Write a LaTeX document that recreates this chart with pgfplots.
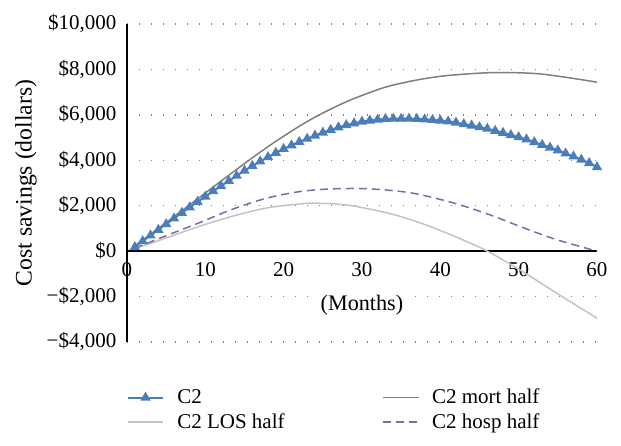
\documentclass[border=0pt]{standalone}
\usepackage{pgfplots}
\pgfplotsset{compat=1.18}
\usepackage{fontspec}
\setmainfont{Liberation Serif}
\definecolor{cblue}{HTML}{4A7EBB}
\definecolor{cmort}{HTML}{7F7F7F}
\definecolor{clos}{HTML}{C3C3C3}
\definecolor{chosp}{HTML}{7F6AA8}
\definecolor{cgrid}{HTML}{808080}

\pgfplotstableread{
m v
1 180
2 440
3 690
4 940
5 1190
6 1440
7 1690
8 1930
9 2170
10 2400
11 2640
12 2870
13 3090
14 3320
15 3540
16 3750
17 3950
18 4140
19 4330
20 4500
21 4660
22 4810
23 4950
24 5090
25 5220
26 5340
27 5450
28 5550
29 5630
30 5700
31 5750
32 5790
33 5820
34 5830
35 5830
36 5830
37 5820
38 5800
39 5780
40 5750
41 5710
42 5660
43 5590
44 5530
45 5460
46 5390
47 5300
48 5210
49 5110
50 5020
51 4920
52 4800
53 4680
54 4560
55 4440
56 4300
57 4170
58 4030
59 3880
60 3700
}\cii

\pgfplotstableread{
m v
1 230
5 1260
10 2560
14 3600
18 4600
22 5500
25 6080
28.5 6650
33 7220
37.4 7560
41.2 7740
46.8 7860
52.8 7800
60 7440
}\mort

\pgfplotstableread{
m v
1 110
5 580
9.3 1100
13.5 1540
17.8 1900
22.1 2080
24.5 2110
28.5 2010
33.6 1650
37.8 1200
42.1 610
46 0
50.6 -920
54.9 -1860
60 -2950
}\los

\pgfplotstableread{
m v
1 130
5 680
9.3 1260
13.5 1850
17.8 2330
22 2620
26 2740
30.5 2750
34.9 2630
37.8 2460
42.1 2080
46.4 1590
50.6 1030
54.9 500
60 0
}\hosp

\begin{document}
\fontsize{12.6}{14.5}\selectfont
\begin{tikzpicture}
\begin{axis}[
  at={(0pt,0pt)}, anchor=south west,
  scale only axis, width=282pt, height=190.8pt,
  xmin=0, xmax=60, ymin=-4000, ymax=10000,
  axis x line=middle, axis y line=left,
  axis line style={-, black, line width=0.9pt},
  xtick={0,10,20,30,40,50,60},
  xticklabels={0,10,20,30,40,50,60},
  ytick={-4000,-2000,0,2000,4000,6000,8000,10000},
  yticklabels={{−\$4,000},{−\$2,000},{\$0},{\$2,000},{\$4,000},{\$6,000},{\$8,000},{\$10,000}},
  scaled y ticks=false,
  major tick length=0pt,
  hide obscured x ticks=false,
  ymajorgrids,
  grid style={cgrid, line width=0.9pt, dash pattern=on 0.9pt off 6.3pt},
  tick label style={font=\fontsize{12.6}{14.5}\selectfont},
  x tick label style={yshift=-2.5pt},
  y tick label style={xshift=-2pt},
  xlabel={(Months)},
  xlabel style={at={(axis cs:30,-2400)}, anchor=center, fill=white, inner sep=1pt, font=\fontsize{13.3}{15}\selectfont},
  ylabel={Cost savings (dollars)},
  ylabel style={at={(axis description cs:-0.215,0.5)}, anchor=center, font=\fontsize{14.2}{16}\selectfont},
  clip=false,
  legend columns=2,
  legend cell align=left,
  legend style={draw=none, fill=none, at={(rel axis cs:0,0)}, anchor=north west, yshift=-26pt,
    inner sep=0pt, outer sep=0pt, row sep=0pt, font=\fontsize{12.6}{14.5}\selectfont,
    /tikz/every odd column/.append style={column sep=6pt}},
  legend image code/.code={\draw[mark repeat=2,mark phase=2,#1] plot coordinates {(0pt,0pt) (10.5pt,0pt) (21pt,0pt)};},
]
\addplot[cblue, line width=1.2pt, mark=triangle*, mark size=2.4pt, mark options={solid}] table[x=m,y=v] {\cii};
\addlegendentry{\makebox[121pt][l]{C2}}
\addplot[cmort, line width=0.9pt, smooth] table[x=m,y=v] {\mort};
\addlegendentry{C2 mort half}
\addplot[clos, line width=0.9pt, smooth] table[x=m,y=v] {\los};
\addlegendentry{\makebox[121pt][l]{C2 LOS half}}
\addplot[chosp, line width=0.9pt, dash pattern=on 4.8pt off 3pt, smooth] table[x=m,y=v] {\hosp};
\addlegendentry{C2 hosp half}
\end{axis}
\path[use as bounding box] (-76.2pt,-62.4pt) rectangle (296.4pt,205.2pt);
\end{tikzpicture}
\end{document}
